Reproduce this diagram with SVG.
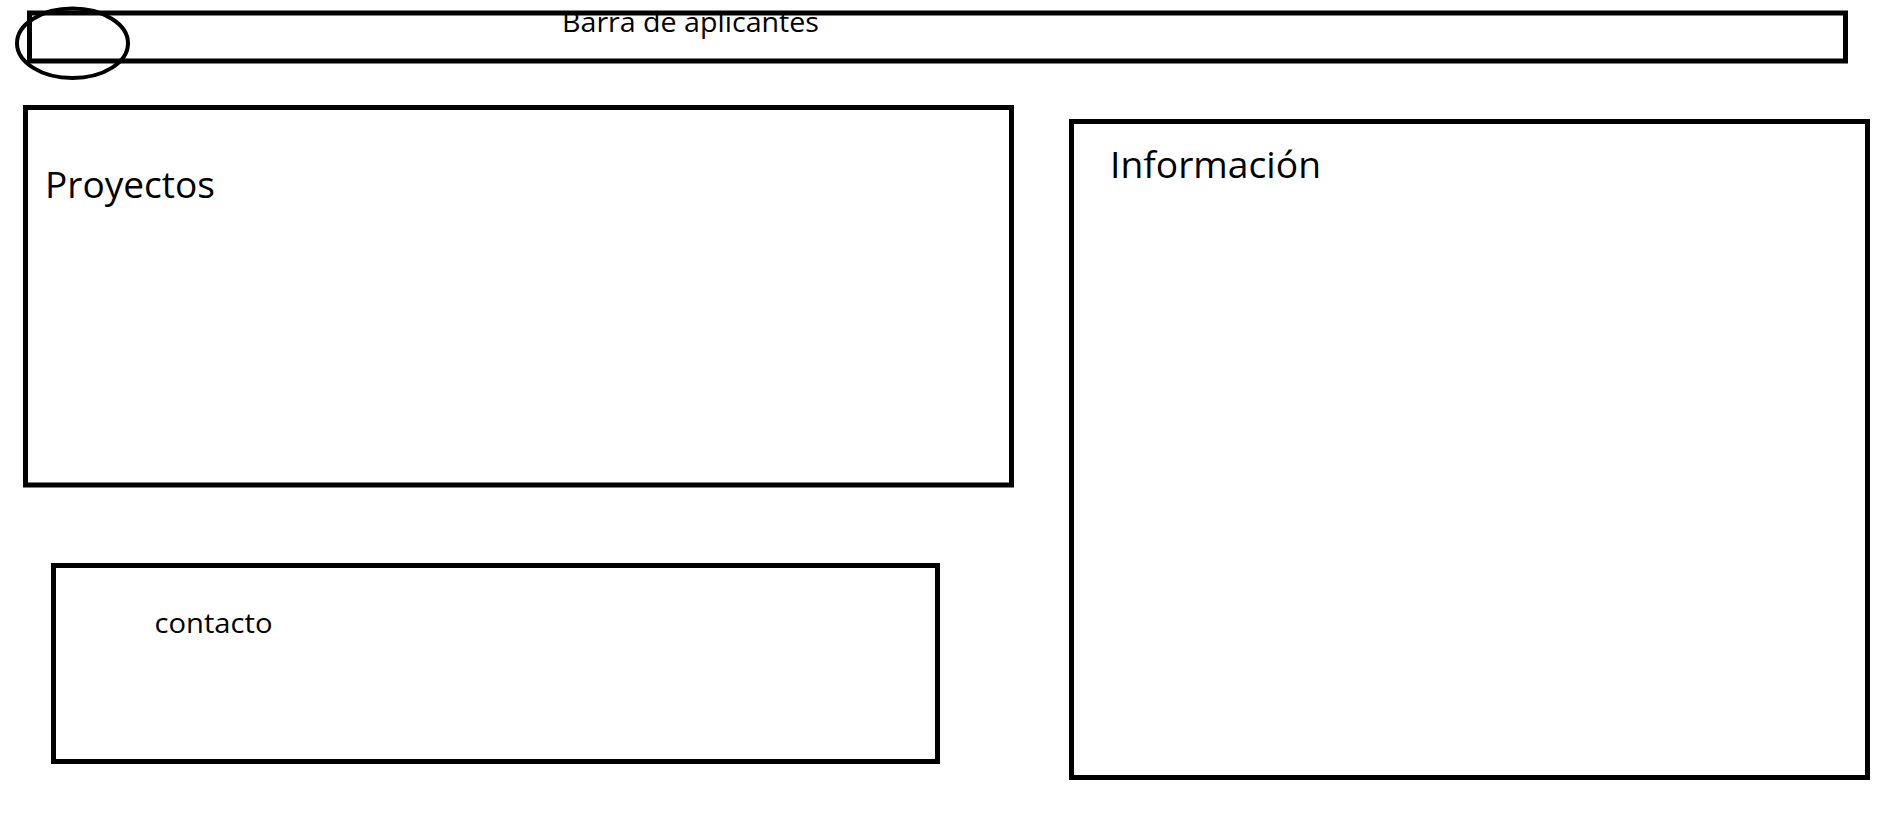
<svg xmlns="http://www.w3.org/2000/svg" width="1904" height="818" viewBox="0 0 1904 818">
<style>
.box{fill:none;stroke:#000;stroke-width:5}
.lbl{font-family:"Open Sans","Noto Sans","Liberation Sans",sans-serif;fill:#000}
</style>
<rect width="1904" height="818" fill="#fff"/>
<g id="barra">
<rect class="box" x="29.5" y="13" width="1816" height="48"/>
<text class="lbl" x="562" y="32" font-size="28" textLength="257" lengthAdjust="spacingAndGlyphs">Barra de aplicantes</text>
<ellipse cx="72.5" cy="43.3" rx="55.5" ry="34.7" fill="none" stroke="#000" stroke-width="4"/>
</g>
<g id="proyectos">
<rect class="box" x="25.5" y="107.5" width="986" height="377.5"/>
<text class="lbl" x="45" y="198.3" font-size="37" textLength="170" lengthAdjust="spacingAndGlyphs">Proyectos</text>
</g>
<g id="informacion">
<rect class="box" x="1071.5" y="121.5" width="796" height="656"/>
<text class="lbl" x="1110" y="177.7" font-size="37" textLength="211" lengthAdjust="spacingAndGlyphs">Información</text>
</g>
<g id="contacto">
<rect class="box" x="53.5" y="565.5" width="884" height="196"/>
<text class="lbl" x="154.5" y="633.3" font-size="28" textLength="118" lengthAdjust="spacingAndGlyphs">contacto</text>
</g>
<g id="connectors"/>
</svg>
